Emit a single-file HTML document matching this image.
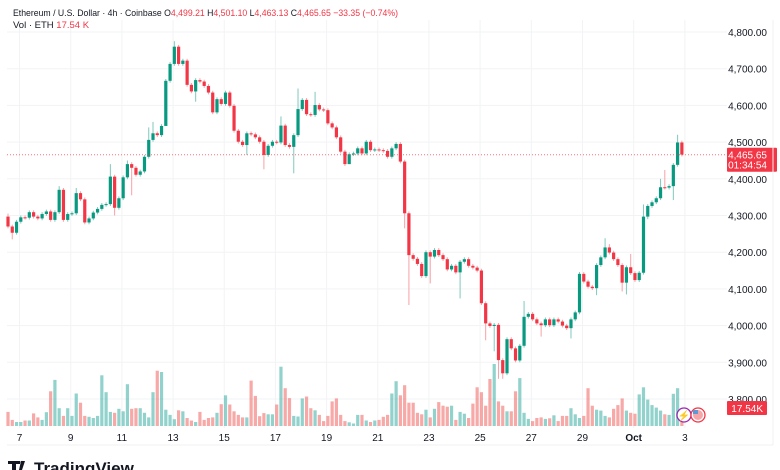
<!DOCTYPE html>
<html><head><meta charset="utf-8"><style>
html,body{margin:0;padding:0;background:#fff;width:780px;height:470px;overflow:hidden;font-family:"Liberation Sans",sans-serif;}
svg{display:block}
</style></head><body>
<svg id="chart" width="780" height="470" viewBox="0 0 780 470" xmlns="http://www.w3.org/2000/svg">
<g id="grid"></g>
<g id="vol"></g>
<g id="candles"></g>
<g id="axes"></g>
<line x1="7" y1="445" x2="773" y2="445" stroke="#f0f1f3" stroke-width="1"/>
<line x1="773" y1="20" x2="773" y2="445" stroke="#f0f1f3" stroke-width="1"/>
<text x="13" y="16" font-size="9.5" fill="#131722" textLength="385" lengthAdjust="spacingAndGlyphs">Ethereum / U.S. Dollar · 4h · Coinbase  O<tspan fill="#f23645">4,499.21</tspan>  H<tspan fill="#f23645">4,501.10</tspan>  L<tspan fill="#f23645">4,463.13</tspan>  C<tspan fill="#f23645">4,465.65  −33.35 (−0.74%)</tspan></text>
<text x="13" y="28" font-size="9.5" fill="#131722">Vol · ETH  <tspan fill="#f23645">17.54 K</tspan></text>
<g><circle cx="684" cy="415" r="7" fill="#fff" stroke="#9c27b0" stroke-width="1.3"/><text x="684" y="419" font-size="10" fill="#9c27b0" text-anchor="middle">⚡</text></g>
<g><circle cx="698" cy="415" r="7" fill="#fff" stroke="#f23645" stroke-width="1.3"/><circle cx="698" cy="415" r="5" fill="#f7a5a8"/><rect x="693" y="410" width="5" height="4" fill="#5b9bd5"/></g>
<g><path d="M8 461h12v3h-4v6h-4v-6h-4z M21 461h4l-3 9h-3z" fill="#131722"/><circle cx="22" cy="462.5" r="1.6" fill="#131722"/><text x="34" y="474" font-size="17" font-weight="bold" fill="#131722">TradingView</text></g>
</svg>
<script>
const closes=[4270,4253,4283,4295,4294,4309,4297,4292,4304,4311,4288,4309,4370,4288,4304,4306,4361,4344,4281,4292,4308,4318,4329,4331,4406,4321,4347,4404,4440,4430,4411,4420,4460,4506,4524,4519,4544,4667,4713,4760,4713,4722,4656,4638,4669,4665,4653,4635,4581,4617,4604,4635,4599,4531,4501,4492,4524,4521,4513,4501,4465,4490,4501,4499,4545,4492,4487,4519,4590,4615,4576,4574,4601,4589,4587,4551,4540,4513,4474,4440,4467,4469,4483,4469,4501,4478,4480,4478,4476,4460,4483,4495,4447,4306,4192,4182,4168,4135,4200,4188,4206,4192,4181,4153,4163,4145,4174,4181,4163,4158,4150,4061,4006,3999,4002,3906,3870,3963,3938,3905,3945,4024,4032,4017,4006,4001,4017,4001,4017,4011,4000,3993,4017,4036,4141,4120,4106,4102,4165,4186,4213,4199,4181,4165,4117,4159,4143,4124,4144,4297,4326,4336,4347,4377,4376,4380,4438,4499,4466];
const firstOpen=4297;
const highWicks={0:4305,12:4380,16:4375,24:4440,28:4450,33:4540,34:4555,39:4775,64:4570,68:4646,72:4637,121:4067,140:4238,141:4222,146:4195,149:4330,153:4400,154:4424,157:4520};
const lowWicks={1:4235,25:4300,29:4355,37:4620,44:4610,56:4465,60:4426,67:4415,80:4450,93:4265,94:4056,99:4115,106:4074,112:3960,114:3930,115:3855,116:3855,125:3970,132:3965,138:4083,144:4093,145:4085,150:4290,156:4342};
const volumes=[14.1,6.1,4.0,4.0,5.5,5.5,12.6,8.6,6.1,13.8,34.7,46.1,17.8,10.1,17.8,10.1,32.5,23.3,10.1,9.2,8.0,10.1,50.7,33.8,14.1,13.2,17.2,14.7,41.8,17.2,17.8,17.8,13.2,8.6,33.8,55.3,54.0,16.3,11.1,6.8,15.7,14.7,8.0,5.5,4.0,14.1,6.1,8.0,8.6,13.2,21.8,30.7,21.5,14.7,11.1,8.6,8.6,45.4,30.1,9.8,12.9,11.7,11.7,21.5,59.3,37.8,27.9,10.1,9.5,27.6,29.5,17.8,15.7,11.1,4.9,10.1,24.6,27.6,11.1,4.9,3.7,2.5,11.1,11.1,5.5,4.0,5.5,6.1,9.2,11.1,32.5,44.8,30.7,40.8,23.3,23.3,13.2,11.7,16.3,8.6,17.2,23.9,20.3,19.3,20.3,6.1,14.1,12.3,8.0,22.4,38.7,33.8,20.3,47.0,62,24.6,20.3,14.7,14.7,34.7,47.9,13.2,7.1,4.9,8.0,8.6,7.1,7.7,10.7,4.9,10.1,10.1,17.8,11.7,8.0,10.1,37.8,20.3,16.3,15.4,10.1,8.6,17.2,20.9,27.6,15.4,13.2,12.3,31.6,38.7,26.4,20.9,18.4,15.4,11.7,11.1,32.2,37.8,17.54];
const priceTicks=[4800,4700,4600,4500,4400,4300,4200,4100,4000,3900,3800];
const dateLabels=["7","9","11","13","15","17","19","21","23","25","27","29","Oct","3"];
const lastPrice=4465.65;
const NS="http://www.w3.org/2000/svg";
function yP(p){return 32+(4800-p)*0.367;}
function xI(i){return 8+i*4.265;}
function yV(v){return 426-v*1.0;}
function mk(tag,attrs,parent){const e=document.createElementNS(NS,tag);for(const k in attrs)e.setAttribute(k,attrs[k]);parent.appendChild(e);return e;}
const grid=document.getElementById('grid'),axes=document.getElementById('axes'),vg=document.getElementById('vol'),cg=document.getElementById('candles');
priceTicks.forEach(p=>{
  const l=mk('line',{x1:7,x2:727,y1:yP(p),y2:yP(p),stroke:'#f2f3f5','stroke-width':1},grid);
  
  
  const t=mk('text',{x:767,y:yP(p)+4,'font-size':10,fill:'#131722','text-anchor':'end'},axes);
  
  
  t.textContent=p.toLocaleString('en-US',{minimumFractionDigits:2});
});
dateLabels.forEach((d,k)=>{
  const x=xI(2.7+12*k);
  const l=mk('line',{x1:x,x2:x,y1:20,y2:428,stroke:'#f2f3f5','stroke-width':1},grid);
  
  
  const t=mk('text',{x:x,y:441,'font-size':10,fill:'#131722','text-anchor':'middle','font-weight':d==='Oct'?'bold':'normal'},axes);
  
  
  t.textContent=d;
});
let prev=firstOpen;
closes.forEach((c,i)=>{
  const o=prev;prev=c;
  const up=c>=o;
  const col=up?'#089981':'#f23645';
  const wcol=up?'#7fc9bd':'#f7a1a7';
  const hi=highWicks[i]!==undefined?highWicks[i]:Math.max(o,c)+5;
  const lo=lowWicks[i]!==undefined?lowWicks[i]:Math.min(o,c)-5;
  const x=xI(i);
  const v=volumes[i];
  if(v!==undefined){
    const b=mk('rect',{x:x-1.6,y:yV(v),width:3.2,height:426-yV(v),fill:up?'#26a69a':'#ef5350','fill-opacity':0.5},vg);
    
    
  }
  const w=mk('line',{x1:x,x2:x,y1:yP(hi),y2:yP(lo),stroke:wcol,'stroke-width':1},cg);
  
  
  const top=yP(Math.max(o,c)),bot=yP(Math.min(o,c));
  const r=mk('rect',{x:x-1.6,y:top,width:3.2,height:Math.max(1,bot-top),fill:col},cg);
  
  
});
const ly=yP(lastPrice);
const dl=mk('line',{x1:7,x2:727,y1:ly,y2:ly,stroke:'#f23645','stroke-width':1,'stroke-dasharray':'1,2','stroke-opacity':0.7},axes);


const pb=mk('rect',{x:727,y:ly-7,width:50,height:24,fill:'#f23645',rx:1},axes);


const pt=mk('text',{x:767,y:ly+4,'font-size':10,fill:'#fff','text-anchor':'end'},axes);


pt.textContent=lastPrice.toLocaleString('en-US',{minimumFractionDigits:2});
const ct=mk('text',{x:767,y:ly+14,'font-size':10,fill:'#fff','text-anchor':'end'},axes);


ct.textContent='01:34:54';
const vb=mk('rect',{x:727,y:401,width:40,height:14,fill:'#f23645',rx:1},axes);


const vt=mk('text',{x:763,y:412,'font-size':10,fill:'#fff','text-anchor':'end'},axes);


vt.textContent=volumes[volumes.length-1]+'K';
</script>
</body></html>
